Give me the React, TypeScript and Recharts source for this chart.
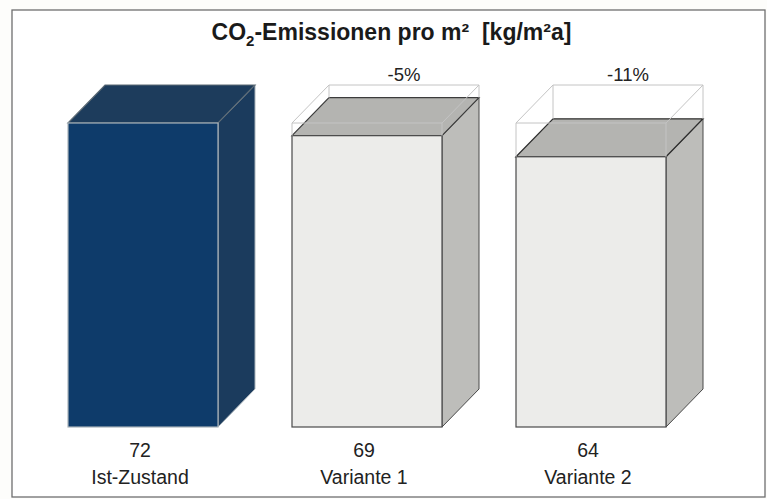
import React from 'react';
import { BarChart, Bar, XAxis, YAxis } from 'recharts';

const categories = ['Ist-Zustand', 'Variante 1', 'Variante 2'];
const values = [72, 69, 64];
const changes = ['', '-5%', '-11%'];
const referenceValue = 72;

const palette = [
  { front: '#0e3b6a', side: '#1b3b5d', top: '#1d3c5c', edge: '#a9b3ba', strong: '#5d6b75', ghost: false },
  { front: '#ececea', side: '#bdbdba', top: '#b4b4b1', edge: '#4a4a4a', strong: '#3c3c3c', ghost: true },
  { front: '#ececea', side: '#bdbdba', top: '#b4b4b1', edge: '#4a4a4a', strong: '#2e2e2e', ghost: true },
];

const data = categories.map((name, i) => ({ name, value: values[i], change: changes[i], reference: referenceValue }));

const DX = 37;
const DY = 38;
const FONT = '"Liberation Sans", Arial, sans-serif';

function Box(props: any) {
  const { x, y, width, height, payload, index } = props;
  const c = palette[index];
  const bottom = y + height;
  const right = x + width;
  const ghostTop = bottom - (height * payload.reference) / payload.value;
  const pts = (a: number[][]) => a.map((p) => p.join(',')).join(' ');
  return (
    <g>
      <polygon points={pts([[right, y], [right + DX, y - DY], [right + DX, bottom - DY], [right, bottom]])} fill={c.side} stroke={c.edge} strokeWidth={1} />
      <polygon points={pts([[x, y], [x + DX, y - DY], [right + DX, y - DY], [right, y]])} fill={c.top} stroke={c.strong} strokeWidth={1.2} />
      <rect x={x} y={y} width={width} height={height} fill={c.front} stroke={c.edge} strokeWidth={1.2} />
      {c.ghost && (
        <g fill="none" stroke="#c4c4c4" strokeWidth={1}>
          <polygon points={pts([[x, ghostTop], [x + DX, ghostTop - DY], [right + DX, ghostTop - DY], [right, ghostTop]])} />
          <line x1={x} y1={ghostTop} x2={x} y2={y} />
          <line x1={right} y1={ghostTop} x2={right} y2={y} />
          <line x1={x + DX} y1={ghostTop - DY} x2={x + DX} y2={y - DY} />
          <line x1={right + DX} y1={ghostTop - DY} x2={right + DX} y2={y - DY} />
        </g>
      )}
      {payload.change && (
        <text x={x + width / 2 + DX} y={ghostTop - DY - 4} textAnchor="middle" fontFamily={FONT} fontSize={18.5} fill="#222">
          {payload.change}
        </text>
      )}
    </g>
  );
}

function Tick(props: any) {
  const { x, y, index } = props;
  return (
    <g fontFamily={FONT} fontSize={19.5} fill="#222" textAnchor="middle">
      <text x={x - 3} y={y + 22}>{values[index]}</text>
      <text x={x - 3} y={y + 49}>{categories[index]}</text>
    </g>
  );
}

export default function App() {
  return (
    <div style={{ position: 'absolute', left: 0, top: 0, width: 767, height: 499, background: '#fdfdfb' }}>
      <BarChart
        width={767}
        height={499}
        data={data}
        margin={{ top: 123, right: 64, bottom: 12, left: 31 }}
      >
        <rect x={12} y={10} width={753} height={487} fill="#ffffff" stroke="#6f6f6f" strokeWidth={1.3} />
        <text x={391.5} y={40} textAnchor="middle" fontFamily={FONT} fontWeight="bold" fontSize={23} fill="#1a1a1a" style={{ whiteSpace: 'pre' }}>
          CO<tspan fontSize={15} dy={6}>2</tspan><tspan dy={-6}>-Emissionen pro m²  [kg/m²a]</tspan>
        </text>
        <XAxis dataKey="name" height={60} axisLine={false} tickLine={false} tick={<Tick />} interval={0} />
        <YAxis hide domain={[0, referenceValue]} />
        <Bar dataKey="value" barSize={150} shape={<Box />} isAnimationActive={false} />
      </BarChart>
    </div>
  );
}
